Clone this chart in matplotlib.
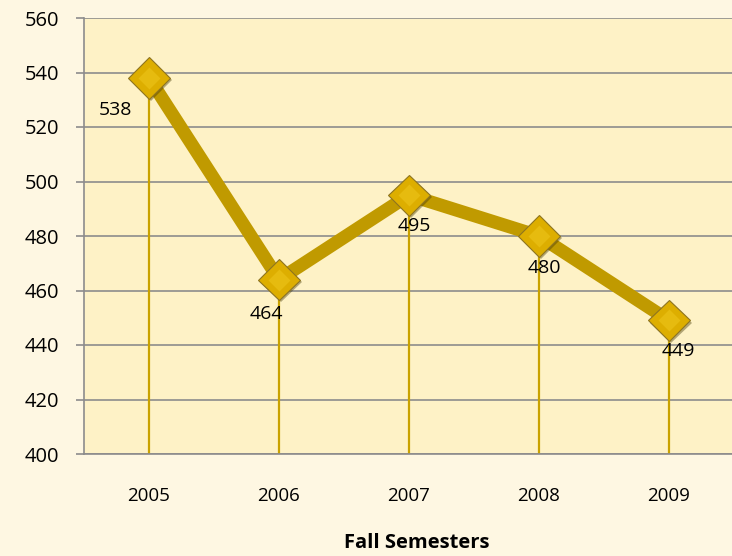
import numpy as np
import matplotlib.pyplot as plt
import matplotlib.patheffects as pe

years = ['2005', '2006', '2007', '2008', '2009']
values = [538, 464, 495, 480, 449]
# label offsets in points (dx, dy)
label_offsets = [(-24, -23), (-9, -25), (4, -22), (4, -23), (7, -22)]

plt.rcParams['font.family'] = ['Open Sans', 'DejaVu Sans']

fig = plt.figure(figsize=(7.32, 5.56), dpi=100)
fig.patch.set_facecolor('#FEF7E2')
ax = fig.add_axes([84/732, (556-454)/556, 650/732, 436/556])
ax.set_facecolor('#FEF2C6')

x = np.arange(len(years))
ax.set_xlim(-0.5, len(years) - 0.5)
ax.set_ylim(400, 560)
ax.set_yticks(np.arange(400, 561, 20))
ax.yaxis.grid(True, color='#8C8C8C', linewidth=1.2)
ax.set_axisbelow(True)

# drop lines
ax.vlines(x, 400, values, color='#C9A200', linewidth=1.6, zorder=2)

ax.plot(x, values, color='#C09A00', linewidth=9.5, solid_capstyle='butt', zorder=3)
ax.plot(x, values, linestyle='none', marker='D', markersize=21,
        markerfacecolor='#DDAE00', markeredgecolor='#8E7420', markeredgewidth=0.8,
        zorder=4, path_effects=[pe.SimplePatchShadow(offset=(1.5, -1.5), alpha=0.4), pe.Normal()])
ax.plot(x, values, linestyle='none', marker='D', markersize=11,
        markerfacecolor='#EDC51A', markeredgecolor='none', alpha=0.6, zorder=5)

for xi, v, (dx, dy) in zip(x, values, label_offsets):
    ax.annotate(str(v), (xi, v), xytext=(dx, dy), textcoords='offset points',
                ha='center', va='center', fontsize=14, color='#000000', zorder=6)

ax.set_xticks(x)
ax.set_xticklabels(years, fontsize=13.5)
ax.tick_params(axis='x', length=0, pad=24)
ax.tick_params(axis='y', length=6, width=1.2, color='#8C8C8C', labelsize=14.5, pad=12)
for s in ['top', 'right']:
    ax.spines[s].set_visible(False)
ax.spines['left'].set_color('#8C8C8C')
ax.spines['left'].set_linewidth(1.2)
ax.spines['bottom'].set_color('#8C8C8C')
ax.spines['bottom'].set_linewidth(1.2)

fig.text(417/732, 1 - 543/556, 'Fall Semesters', ha='center', va='center',
         fontsize=14.5, fontweight='bold')

fig.savefig('out.png', dpi=100, facecolor=fig.get_facecolor())
